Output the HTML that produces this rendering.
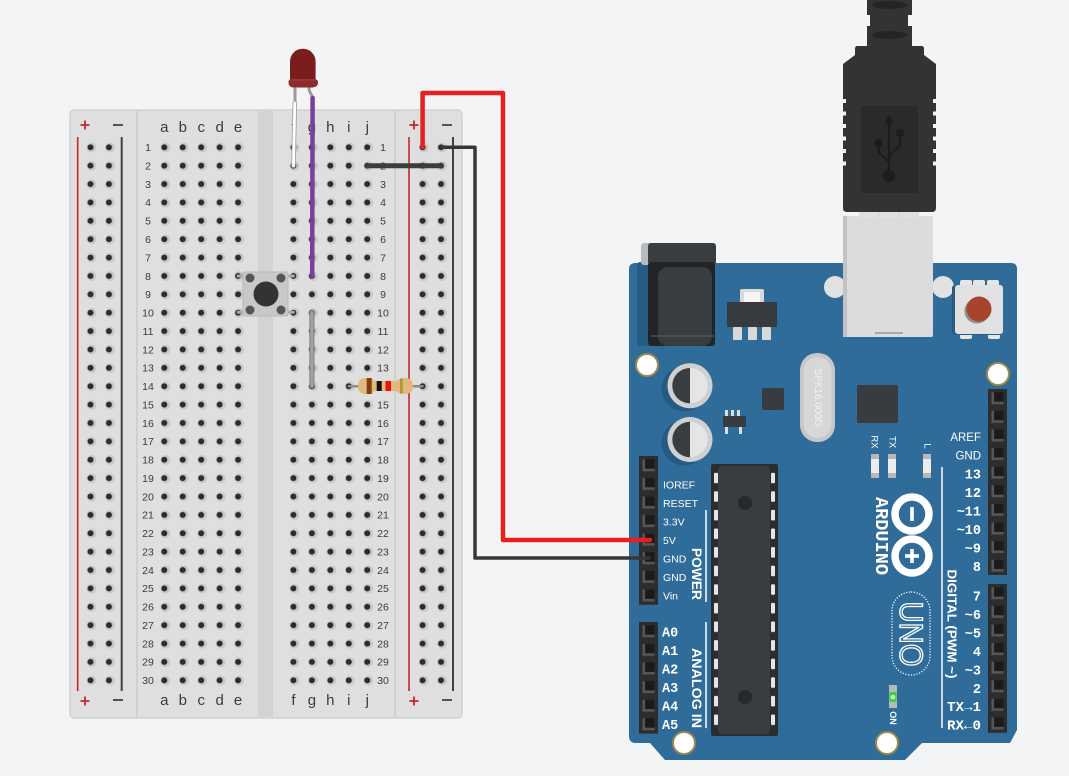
<!DOCTYPE html>
<html><head><meta charset="utf-8"><style>
html,body{margin:0;padding:0;background:#f3f4f6;}
svg{display:block;}
</style></head><body>
<svg width="1069" height="776" viewBox="0 0 1069 776" xmlns="http://www.w3.org/2000/svg">
<defs>
<pattern id="hole" patternUnits="userSpaceOnUse" x="155.075" y="138.11" width="18.45" height="18.38">
<circle cx="10.3" cy="9.4" r="4.9" fill="#c9c9c9"/>
<circle cx="9.225" cy="9.19" r="3" fill="#2c2c2c"/>
</pattern>
<pattern id="pin" patternUnits="userSpaceOnUse" width="19" height="18.6">
<rect width="19" height="18.6" fill="#2d2d2d"/>
<rect x="3.5" y="3.3" width="12" height="12" fill="#1b1b1b"/>
<rect x="3.5" y="3.3" width="2.6" height="12" fill="#565656"/>
<rect x="3.5" y="12.7" width="12" height="2.6" fill="#565656"/>
</pattern>
<pattern id="dash" patternUnits="userSpaceOnUse" width="6" height="18.6">
<rect x="0" y="0" width="4" height="10.5" rx="1" fill="#e6e6e6"/>
</pattern>
</defs>

<!-- BREADBOARD -->
<rect x="70" y="110" width="392" height="608" rx="4" fill="#dfdfdf" stroke="#d2d2d2" stroke-width="1.5"/>
<rect x="258" y="111" width="15" height="606" fill="#d3d3d3"/>
<line x1="137" y1="111" x2="137" y2="717" stroke="#d0d0d0" stroke-width="2"/>
<line x1="395" y1="111" x2="395" y2="717" stroke="#d0d0d0" stroke-width="2"/>
<!-- rail lines -->
<line x1="77.7" y1="137" x2="77.7" y2="691" stroke="#c62828" stroke-width="1.6"/>
<line x1="121.7" y1="137" x2="121.7" y2="691" stroke="#404040" stroke-width="2"/>
<line x1="409" y1="137" x2="409" y2="691" stroke="#c62828" stroke-width="1.6"/>
<line x1="453" y1="137" x2="453" y2="691" stroke="#404040" stroke-width="2"/>
<!-- +/- -->
<g stroke-width="1.8">
<path d="M80.5 125H89.5M85 120.5V129.5" stroke="#c62828"/>
<path d="M113 125H123" stroke="#444"/>
<path d="M409.5 125H418.5M414 120.5V129.5" stroke="#c62828"/>
<path d="M442 125H452" stroke="#444"/>
<path d="M80.5 701H89.5M85 696.5V705.5" stroke="#c62828"/>
<path d="M113 700H123" stroke="#444"/>
<path d="M409.5 701H418.5M414 696.5V705.5" stroke="#c62828"/>
<path d="M442 700H452" stroke="#444"/>
</g>
<!-- holes -->
<rect x="81.275" y="138.11" width="36.9" height="551.4" fill="url(#hole)"/>
<rect x="155.075" y="138.11" width="92.25" height="551.4" fill="url(#hole)"/>
<rect x="284.2" y="138.11" width="92.25" height="551.4" fill="url(#hole)"/>
<rect x="413.38" y="138.11" width="36.9" height="551.4" fill="url(#hole)"/>
<!-- letters -->
<g font-family="Liberation Sans, sans-serif" font-size="15" fill="#3a3a3a" text-anchor="middle">
<text x="164.3" y="132">a</text><text x="182.75" y="132">b</text><text x="201.2" y="132">c</text><text x="219.65" y="132">d</text><text x="238.1" y="132">e</text>
<text x="293.45" y="132">f</text><text x="311.9" y="132">g</text><text x="330.35" y="132">h</text><text x="348.8" y="132">i</text><text x="367.25" y="132">j</text>
<text x="164.3" y="705">a</text><text x="182.75" y="705">b</text><text x="201.2" y="705">c</text><text x="219.65" y="705">d</text><text x="238.1" y="705">e</text>
<text x="293.45" y="705">f</text><text x="311.9" y="705">g</text><text x="330.35" y="705">h</text><text x="348.8" y="705">i</text><text x="367.25" y="705">j</text>
</g>
<!-- row numbers -->
<g font-family="Liberation Sans, sans-serif" font-size="10.5" fill="#3a3a3a" text-anchor="middle">
<text x="148" y="151.1">1</text><text x="383" y="151.1">1</text>
<text x="148" y="169.5">2</text><text x="383" y="169.5">2</text>
<text x="148" y="187.9">3</text><text x="383" y="187.9">3</text>
<text x="148" y="206.2">4</text><text x="383" y="206.2">4</text>
<text x="148" y="224.6">5</text><text x="383" y="224.6">5</text>
<text x="148" y="243">6</text><text x="383" y="243">6</text>
<text x="148" y="261.4">7</text><text x="383" y="261.4">7</text>
<text x="148" y="279.8">8</text><text x="383" y="279.8">8</text>
<text x="148" y="298.1">9</text><text x="383" y="298.1">9</text>
<text x="148" y="316.5">10</text><text x="383" y="316.5">10</text>
<text x="148" y="334.9">11</text><text x="383" y="334.9">11</text>
<text x="148" y="353.3">12</text><text x="383" y="353.3">12</text>
<text x="148" y="371.7">13</text><text x="383" y="371.7">13</text>
<text x="148" y="390">14</text><text x="383" y="390">14</text>
<text x="148" y="408.4">15</text><text x="383" y="408.4">15</text>
<text x="148" y="426.8">16</text><text x="383" y="426.8">16</text>
<text x="148" y="445.2">17</text><text x="383" y="445.2">17</text>
<text x="148" y="463.6">18</text><text x="383" y="463.6">18</text>
<text x="148" y="481.9">19</text><text x="383" y="481.9">19</text>
<text x="148" y="500.3">20</text><text x="383" y="500.3">20</text>
<text x="148" y="518.7">21</text><text x="383" y="518.7">21</text>
<text x="148" y="537.1">22</text><text x="383" y="537.1">22</text>
<text x="148" y="555.5">23</text><text x="383" y="555.5">23</text>
<text x="148" y="573.8">24</text><text x="383" y="573.8">24</text>
<text x="148" y="592.2">25</text><text x="383" y="592.2">25</text>
<text x="148" y="610.6">26</text><text x="383" y="610.6">26</text>
<text x="148" y="629">27</text><text x="383" y="629">27</text>
<text x="148" y="647.4">28</text><text x="383" y="647.4">28</text>
<text x="148" y="665.7">29</text><text x="383" y="665.7">29</text>
<text x="148" y="684.1">30</text><text x="383" y="684.1">30</text>
</g>

<!-- pushbutton -->
<g stroke="#a9a9a9" stroke-width="3" stroke-linecap="round">
<line x1="238.1" y1="276" x2="246" y2="276"/><line x1="285" y1="276" x2="293.45" y2="276"/>
<line x1="238.1" y1="312.3" x2="246" y2="312.3"/><line x1="285" y1="312.3" x2="293.45" y2="312.3"/>
</g>
<rect x="243" y="272" width="45" height="44" rx="2" fill="#c8c8c8" stroke="#b8b8b8"/>
<circle cx="250" cy="278" r="4.5" fill="#555"/><circle cx="281" cy="278" r="4.5" fill="#555"/>
<circle cx="250" cy="310" r="4.5" fill="#555"/><circle cx="281" cy="310" r="4.5" fill="#555"/>
<circle cx="266" cy="294" r="12.5" fill="#333"/>

<!-- gray wire g10-g14 -->
<line x1="311.9" y1="312.5" x2="311.9" y2="386" stroke="#7d7d7d" stroke-width="5" stroke-linecap="round"/>
<line x1="311.9" y1="312.5" x2="311.9" y2="386" stroke="#a3a3a3" stroke-width="3" stroke-linecap="round"/>

<!-- resistor -->
<line x1="348.8" y1="386.2" x2="422.6" y2="386.2" stroke="#8d8d8d" stroke-width="2.5" stroke-linecap="round"/>
<path d="M358 386 Q358 378 366 378 Q372 378 375 381 H396 Q399 378 405 378 Q413 378 413 386 Q413 394 405 394 Q399 394 396 391 H375 Q372 394 366 394 Q358 394 358 386 Z" fill="#e2b87d"/>
<rect x="366.7" y="378" width="5" height="16" fill="#7b3f12"/>
<rect x="376.7" y="381" width="5" height="10" fill="#111"/>
<rect x="385.5" y="381" width="5.5" height="10" fill="#f0100f"/>
<rect x="400" y="378.5" width="2.8" height="15" fill="#a89a3a"/>

<!-- LED -->
<line x1="295" y1="86" x2="295" y2="104" stroke="#9b9b9b" stroke-width="3"/>
<line x1="294.8" y1="103" x2="293.45" y2="165.7" stroke="#a0a0a0" stroke-width="4.5" stroke-linecap="round"/>
<line x1="294.8" y1="103" x2="293.45" y2="165.7" stroke="#ffffff" stroke-width="2.8" stroke-linecap="round"/>
<polyline points="308.5,86 309.5,91 313,98" fill="none" stroke="#9b9b9b" stroke-width="3"/>
<line x1="312.6" y1="98" x2="312.2" y2="276" stroke="#7a3f99" stroke-width="4.5" stroke-linecap="round"/>
<path d="M290 80 V61.5 A12.8 12.8 0 0 1 315.6 61.5 V80 Z" fill="#7b1d1d"/>
<path d="M288.5 82 Q288.5 79 292 79 H314 Q318 79 318 82.5 Q318 87 312 87.5 H294 Q288.5 87.5 288.5 82 Z" fill="#8e2b2b"/>
<path d="M290 80 H315.6" stroke="#a84040" stroke-width="1"/>

<!-- ARDUINO BOARD -->
<path d="M636 263 H1011 Q1017 263 1017 269 V730 L1010 743 H922 L905 760 H665 L650 743 H636 Q629 743 629 736 V269 Q629 263 636 263 Z" fill="#2f6c9a"/>
<!-- power jack -->
<rect x="637" y="262" width="14" height="84" rx="3" fill="#265b84"/>
<rect x="641" y="243" width="75" height="22" rx="3" fill="#b9bcbf"/>
<rect x="648" y="243" width="68" height="22" rx="3" fill="#3a3d40"/>
<rect x="648" y="262" width="67" height="84" rx="3" fill="#222427"/>
<rect x="658" y="267" width="54" height="79" rx="10" fill="#3a3d40"/>
<line x1="651" y1="336" x2="714" y2="336" stroke="#55585b" stroke-width="1.2"/>
<!-- regulator -->
<rect x="740" y="289" width="24" height="14" rx="2" fill="#d9d9d9"/>
<rect x="744" y="292" width="16" height="10" rx="1" fill="#f4f4f4"/>
<rect x="727" y="302" width="50" height="25" fill="#373b3f"/>
<rect x="733" y="327" width="9" height="13" rx="1" fill="#d9d9d9"/>
<rect x="748" y="327" width="9" height="13" rx="1" fill="#d9d9d9"/>
<rect x="762" y="327" width="9" height="13" rx="1" fill="#d9d9d9"/>
<!-- USB receptacle ears -->
<circle cx="835" cy="287" r="11" fill="#e2e2e2"/>
<circle cx="943" cy="287" r="11" fill="#e2e2e2"/>
<rect x="843" y="216" width="90" height="121" rx="2" fill="#dcdcdc"/>
<rect x="843" y="216" width="4" height="121" fill="#c2c2c2"/>
<line x1="875" y1="333" x2="903" y2="333" stroke="#9a9a9a" stroke-width="1.5"/>
<!-- reset button -->
<rect x="960" y="280" width="12" height="7" rx="2" fill="#e6e6e6"/>
<rect x="973" y="280" width="12" height="7" rx="2" fill="#e6e6e6"/>
<rect x="987" y="280" width="12" height="7" rx="2" fill="#e6e6e6"/>
<rect x="960" y="332" width="12" height="7" rx="2" fill="#e6e6e6"/>
<rect x="988" y="332" width="12" height="7" rx="2" fill="#e6e6e6"/>
<rect x="952" y="285" width="50" height="50" rx="3" fill="#265b84"/>
<rect x="955" y="285" width="48" height="49" rx="3" fill="#e1e1e1"/>
<circle cx="977" cy="311" r="12.5" fill="#8d8d8d"/>
<circle cx="979" cy="309" r="12.5" fill="#a8442b"/>
<!-- mounting holes -->
<g fill="#ffffff" stroke="#9a8a4b" stroke-width="2">
<circle cx="647" cy="365" r="11"/>
<circle cx="998" cy="374" r="11"/>
<circle cx="684" cy="743" r="11"/>
<circle cx="887" cy="743" r="11"/>
</g>
<!-- capacitors -->
<circle cx="684" cy="389" r="22.5" fill="#255a82"/>
<circle cx="690" cy="385.7" r="22.5" fill="#cfd0d1"/>
<path d="M690 368 A17.7 17.7 0 0 0 690 403.4 Z" fill="#3a3d40"/>
<path d="M690 368 A17.7 17.7 0 0 1 690 403.4 Z" fill="#e5e5e5"/>
<circle cx="684" cy="443" r="22.5" fill="#255a82"/>
<circle cx="690" cy="439.5" r="22.5" fill="#cfd0d1"/>
<path d="M690 421.8 A17.7 17.7 0 0 0 690 457.2 Z" fill="#3a3d40"/>
<path d="M690 421.8 A17.7 17.7 0 0 1 690 457.2 Z" fill="#e5e5e5"/>
<!-- small chips -->
<rect x="762" y="388" width="22" height="22" rx="2" fill="#383b3f"/>
<rect x="725" y="410" width="3" height="7" fill="#ddd"/><rect x="731" y="410" width="3" height="7" fill="#ddd"/><rect x="737" y="410" width="3" height="7" fill="#ddd"/>
<rect x="723" y="416" width="23" height="11" fill="#383b3f"/>
<rect x="725" y="427" width="3" height="7" fill="#ddd"/><rect x="739" y="427" width="3" height="7" fill="#ddd"/>
<rect x="857" y="385" width="41" height="38" rx="2" fill="#383b3f"/>
<!-- crystal -->
<rect x="800" y="353" width="35" height="89" rx="17" fill="#c6c7c8"/>
<rect x="803.5" y="357" width="28" height="81" rx="14" fill="#d7d7d7"/>
<text transform="translate(817.5,397.5) rotate(90)" text-anchor="middle" dominant-baseline="central" font-family="Liberation Sans, sans-serif" font-size="10" fill="#f2f2f2">SPK16.000G</text>
<!-- main chip -->
<rect x="711" y="464" width="67" height="272" rx="2" fill="#2a2d30"/>
<rect x="718" y="466" width="52" height="268" rx="4" fill="#3a3d40"/>
<circle cx="745" cy="503" r="7" fill="#26292c"/>
<circle cx="745" cy="697" r="7" fill="#26292c"/>
<g transform="translate(714,472.7)"><rect width="4" height="253" fill="url(#dash)"/></g>
<g transform="translate(771,472.7)"><rect width="4" height="253" fill="url(#dash)"/></g>
<!-- headers -->
<g transform="translate(639,456)"><rect width="19" height="148.8" fill="url(#pin)"/></g>
<g transform="translate(639,622)"><rect width="19" height="111.6" fill="url(#pin)"/></g>
<g transform="translate(988,389)"><rect width="19" height="186" fill="url(#pin)"/></g>
<g transform="translate(988,584)"><rect width="19" height="148.8" fill="url(#pin)"/></g>
<!-- left labels -->
<g font-family="Liberation Sans, sans-serif" font-size="10.5" fill="#ffffff">
<text x="663" y="488.5">IOREF</text>
<text x="663" y="507">RESET</text>
<text x="663" y="525.5">3.3V</text>
<text x="663" y="544">5V</text>
<text x="663" y="562.5">GND</text>
<text x="663" y="581">GND</text>
<text x="663" y="599.5">Vin</text>
</g>
<g font-family="Liberation Mono, monospace" font-weight="bold" font-size="13.5" fill="#ffffff">
<text x="662" y="636.5">A0</text>
<text x="662" y="655">A1</text>
<text x="662" y="673.5">A2</text>
<text x="662" y="692">A3</text>
<text x="662" y="710.5">A4</text>
<text x="662" y="729">A5</text>
</g>
<line x1="706" y1="510" x2="706" y2="602" stroke="#fff" stroke-width="1.5"/>
<line x1="706" y1="622" x2="706" y2="728" stroke="#fff" stroke-width="1.5"/>
<text transform="translate(697,574) rotate(90)" text-anchor="middle" dominant-baseline="central" font-family="Liberation Sans, sans-serif" font-weight="bold" font-size="14" fill="#fff" textLength="52" lengthAdjust="spacingAndGlyphs">POWER</text>
<text transform="translate(697,688) rotate(90)" text-anchor="middle" dominant-baseline="central" font-family="Liberation Sans, sans-serif" font-weight="bold" font-size="14" fill="#fff" textLength="80" lengthAdjust="spacingAndGlyphs">ANALOG IN</text>
<!-- right labels -->
<g font-family="Liberation Sans, sans-serif" font-size="11.5" fill="#ffffff" text-anchor="end">
<text x="981" y="441">AREF</text>
<text x="981" y="459.5">GND</text>
</g>
<g font-family="Liberation Mono, monospace" font-weight="bold" font-size="13.5" fill="#ffffff" text-anchor="end">
<text x="981" y="478.5">13</text>
<text x="981" y="497">12</text>
<text x="981" y="515.5">~11</text>
<text x="981" y="534">~10</text>
<text x="981" y="552.5">~9</text>
<text x="981" y="571">8</text>
<text x="981" y="600.5">7</text>
<text x="981" y="619">~6</text>
<text x="981" y="637.5">~5</text>
<text x="981" y="656">4</text>
<text x="981" y="674.5">~3</text>
<text x="981" y="693">2</text>
<text x="981" y="711" textLength="34" lengthAdjust="spacingAndGlyphs">TX→1</text>
<text x="981" y="729.5" textLength="34" lengthAdjust="spacingAndGlyphs">RX←0</text>
</g>
<line x1="942" y1="467" x2="942" y2="728" stroke="#fff" stroke-width="1.5"/>
<text transform="translate(952,624) rotate(90)" text-anchor="middle" dominant-baseline="central" font-family="Liberation Sans, sans-serif" font-weight="bold" font-size="13" fill="#fff" textLength="109" lengthAdjust="spacingAndGlyphs">DIGITAL (PWM ~)</text>
<!-- RX TX L leds -->
<g font-family="Liberation Sans, sans-serif" font-size="9.5" fill="#fff">
<text transform="translate(874,442) rotate(90)" text-anchor="middle" dominant-baseline="central">RX</text>
<text transform="translate(892,442) rotate(90)" text-anchor="middle" dominant-baseline="central">TX</text>
<text transform="translate(927,446) rotate(90)" text-anchor="middle" dominant-baseline="central">L</text>
</g>
<rect x="871" y="454" width="8" height="24" fill="#b8b8b8"/><rect x="871" y="459" width="8" height="14" fill="#ececec"/>
<rect x="888" y="454" width="8" height="24" fill="#b8b8b8"/><rect x="888" y="459" width="8" height="14" fill="#ececec"/>
<rect x="923" y="454" width="8" height="24" fill="#b8b8b8"/><rect x="923" y="459" width="8" height="14" fill="#ececec"/>
<!-- Arduino logo -->
<text transform="translate(880,536) rotate(90)" text-anchor="middle" dominant-baseline="central" font-family="Liberation Mono, monospace" font-weight="bold" font-size="18" fill="#fff" textLength="78" lengthAdjust="spacingAndGlyphs">ARDUINO</text>
<circle cx="912" cy="514" r="17" fill="none" stroke="#fff" stroke-width="7.5"/>
<circle cx="912" cy="556" r="17" fill="none" stroke="#fff" stroke-width="7.5"/>
<rect x="910.2" y="507" width="3.6" height="14" fill="#fff"/>
<rect x="910.2" y="549" width="3.6" height="14" fill="#fff"/>
<rect x="905" y="554.2" width="14" height="3.6" fill="#fff"/>
<rect x="892" y="592" width="38" height="83" rx="19" fill="none" stroke="#fff" stroke-width="1.3" stroke-dasharray="1.2 1.6"/>
<text transform="translate(911,634) rotate(90)" text-anchor="middle" dominant-baseline="central" font-family="Liberation Sans, sans-serif" font-size="32" fill="none" stroke="#fff" stroke-width="1.4" textLength="65" lengthAdjust="spacingAndGlyphs">UNO</text>
<!-- ON led -->
<rect x="889" y="685" width="8" height="23" fill="#b8b8b8"/>
<rect x="889.5" y="692" width="7" height="10" fill="#3bd13b"/>
<circle cx="893" cy="697" r="2.3" fill="#c9ffc9"/>
<text transform="translate(893,718) rotate(90)" text-anchor="middle" dominant-baseline="central" font-family="Liberation Sans, sans-serif" font-weight="bold" font-size="9" fill="#fff">ON</text>

<!-- USB plug -->
<rect x="859" y="210" width="60" height="8" fill="#e0e0e0"/>
<line x1="879" y1="211" x2="879" y2="217" stroke="#cfcfcf"/><line x1="899" y1="211" x2="899" y2="217" stroke="#cfcfcf"/>
<path d="M867 0 H912 V15 H908 V26 H912 V46 H867 V26 H870 V15 H867 Z" fill="#333"/>
<ellipse cx="889.5" cy="5" rx="17" ry="4" fill="#242424"/>
<ellipse cx="889.5" cy="35" rx="17" ry="4" fill="#242424"/>
<path d="M857 46 H922 Q924 46 924 49 V55 L936 64 V208 Q936 212 932 212 H847 Q843 212 843 208 V64 L855 55 V49 Q855 46 857 46 Z" fill="#333333"/>
<g fill="#f3f4f6">
<rect x="843" y="99" width="3" height="4"/><rect x="843" y="111.5" width="3" height="4"/><rect x="843" y="124" width="3" height="4"/><rect x="843" y="136.5" width="3" height="4"/><rect x="843" y="149" width="3" height="4"/><rect x="843" y="161.5" width="3" height="4"/>
<rect x="933" y="99" width="3" height="4"/><rect x="933" y="111.5" width="3" height="4"/><rect x="933" y="124" width="3" height="4"/><rect x="933" y="136.5" width="3" height="4"/><rect x="933" y="149" width="3" height="4"/><rect x="933" y="161.5" width="3" height="4"/>
</g>
<rect x="861" y="106" width="57" height="87" fill="#2a2a2a"/>
<g fill="#1c1c1c" stroke="#1c1c1c">
<line x1="889" y1="121" x2="889" y2="175" stroke-width="2.2"/>
<polygon points="889,115 884.5,123 893.5,123" stroke="none"/>
<circle cx="889" cy="176" r="6" stroke="none"/>
<circle cx="878.5" cy="143" r="4" stroke="none"/>
<polyline points="878.5,145 878.5,152 889,162" fill="none" stroke-width="2.2"/>
<rect x="896.5" y="129.5" width="7" height="7" stroke="none"/>
<polyline points="900,136 900,145 889,156" fill="none" stroke-width="2.2"/>
</g>

<!-- WIRES -->
<line x1="367.25" y1="165.7" x2="441.05" y2="165.7" stroke="#3a3d40" stroke-width="5" stroke-linecap="round"/>
<polyline points="422.6,147.3 422.6,93 503,93 503,540 650,540" fill="none" stroke="#e5201f" stroke-width="4.5" stroke-linejoin="round" stroke-linecap="round"/>
<polyline points="441.05,147.3 475,147.3 475,558 649,558" fill="none" stroke="#363636" stroke-width="3.5" stroke-linejoin="round" stroke-linecap="round"/>
</svg>
</body></html>
